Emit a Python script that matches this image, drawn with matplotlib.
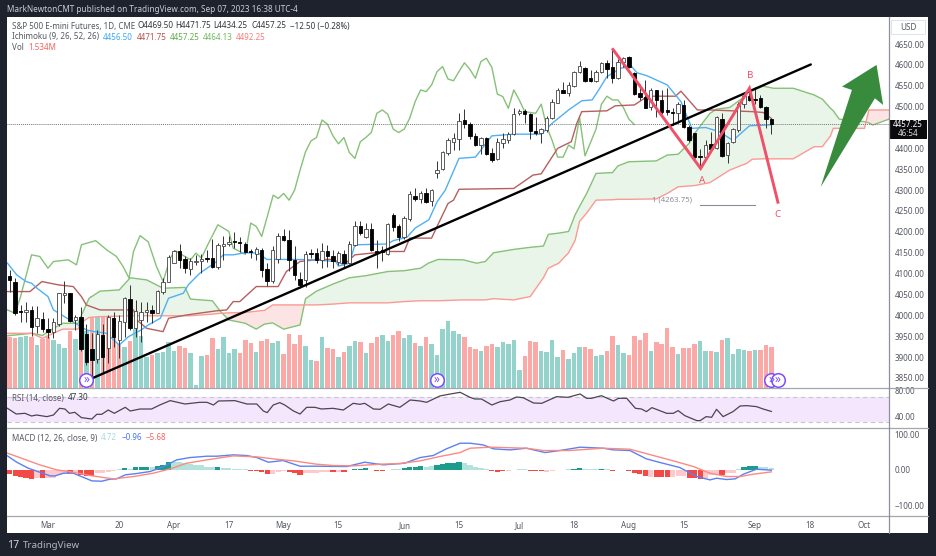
import matplotlib
matplotlib.use("Agg")
import matplotlib.pyplot as plt
import numpy as np
from matplotlib.lines import Line2D
from matplotlib.patches import Polygon, Rectangle

plt.rcParams['font.family'] = ['Noto Sans', 'DejaVu Sans']

W, H = 936, 556

# bars are numbered by trading day, 0 = Mar 1
bars = list(range(-7, 133))
opens = [4095, 4081, 4010, 4008, 4014, 3975, 3992, 3968, 3959, 3979,
         4048, 4053, 3989, 3995, 3955, 3919, 3895, 3952, 3923, 3994,
         3941, 3984, 4038, 3970, 3989, 4007, 4013, 4006, 4055, 4079,
         4126, 4153, 4135, 4110, 4127, 4131, 4138, 4137, 4117, 4167,
         4171, 4178, 4176, 4172, 4153, 4148, 4157, 4110, 4083, 4135,
         4189, 4181, 4133, 4086, 4085, 4149, 4150, 4133, 4153, 4143,
         4129, 4147, 4125, 4169, 4214, 4187, 4206, 4155, 4157, 4147,
         4240, 4214, 4187, 4230, 4287, 4278, 4292, 4273, 4340, 4350,
         4388, 4416, 4422, 4468, 4458, 4430, 4408, 4426, 4388, 4374,
         4412, 4420, 4434, 4484, 4490, 4482, 4441, 4436, 4444, 4472,
         4509, 4540, 4532, 4549, 4582, 4593, 4568, 4562, 4582, 4605,
         4594, 4568, 4608, 4618, 4580, 4533, 4524, 4498, 4540, 4517,
         4493, 4488, 4485, 4504, 4452, 4436, 4381, 4379, 4410, 4400,
         4470, 4384, 4416, 4444, 4506, 4526, 4517, 4520, 4500, 4469.5]
highs = [4108, 4089, 4025, 4033, 4022, 4022, 4009, 3993, 3993, 4053,
         4083, 4053, 4001, 4019, 3979, 3957, 3965, 3979, 4001, 4009,
         4001, 4045, 4073, 4037, 4033, 4033, 4025, 4060, 4089, 4145,
         4157, 4171, 4141, 4137, 4145, 4147, 4157, 4184, 4174, 4189,
         4189, 4199, 4187, 4175, 4158, 4163, 4161, 4125, 4165, 4197,
         4206, 4205, 4166, 4105, 4155, 4159, 4161, 4173, 4169, 4157,
         4155, 4157, 4179, 4227, 4225, 4221, 4222, 4181, 4165, 4222,
         4246, 4219, 4238, 4299, 4304, 4299, 4304, 4302, 4370, 4393,
         4424, 4438, 4484, 4494, 4462, 4438, 4428, 4427, 4402, 4424,
         4436, 4440, 4496, 4494, 4494, 4484, 4474, 4448, 4478, 4518,
         4545, 4560, 4560, 4586, 4610, 4594, 4587, 4588, 4608, 4612,
         4636, 4613, 4620, 4621, 4582, 4555, 4564, 4544, 4541, 4540,
         4544, 4496, 4510, 4516, 4456, 4438, 4398, 4420, 4440, 4478,
         4484, 4416, 4448, 4510, 4529, 4545, 4548, 4529, 4502, 4471.75]
lows = [4057, 4001, 3983, 3985, 3951, 3957, 3961, 3945, 3945, 3975,
        4029, 3985, 3965, 3915, 3880, 3853, 3885, 3865, 3885, 3925,
        3897, 3949, 3965, 3947, 3937, 3985, 3981, 4005, 4052, 4079,
        4125, 4113, 4101, 4097, 4121, 4101, 4128, 4114, 4111, 4133,
        4165, 4162, 4151, 4149, 4138, 4133, 4093, 4070, 4078, 4125,
        4179, 4106, 4085, 4066, 4069, 4137, 4125, 4113, 4117, 4113,
        4121, 4117, 4123, 4165, 4193, 4185, 4153, 4113, 4131, 4145,
        4201, 4177, 4182, 4227, 4273, 4270, 4268, 4262, 4328, 4348,
        4384, 4395, 4395, 4450, 4422, 4406, 4387, 4384, 4368, 4372,
        4400, 4412, 4432, 4480, 4460, 4422, 4432, 4412, 4440, 4470,
        4508, 4532, 4525, 4548, 4580, 4560, 4560, 4560, 4580, 4568,
        4556, 4565, 4594, 4592, 4528, 4517, 4496, 4492, 4476, 4482,
        4480, 4456, 4460, 4448, 4416, 4376, 4352, 4376, 4396, 4398,
        4380, 4366, 4414, 4440, 4496, 4514, 4506, 4496, 4448, 4434.25]
closes = [4085, 4005, 4008, 4014, 3973, 3993, 3967, 3961, 3983, 4053,
          4054, 3987, 3997, 3919, 3889, 3893, 3955, 3901, 3997, 3947,
          3987, 4041, 3969, 4011, 4009, 4014, 4006, 4058, 4081, 4139,
          4153, 4133, 4114, 4131, 4131, 4135, 4134, 4117, 4169, 4171,
          4176, 4176, 4173, 4151, 4152, 4158, 4109, 4083, 4157, 4191,
          4181, 4133, 4097, 4073, 4147, 4148, 4133, 4153, 4143, 4131,
          4149, 4126, 4171, 4214, 4197, 4206, 4157, 4149, 4151, 4219,
          4212, 4187, 4233, 4290, 4279, 4292, 4272, 4300, 4348, 4391,
          4420, 4424, 4466, 4458, 4430, 4408, 4424, 4387, 4372, 4415,
          4422, 4434, 4482, 4490, 4482, 4442, 4436, 4446, 4472, 4510,
          4540, 4533, 4552, 4582, 4597, 4562, 4562, 4584, 4605, 4589,
          4568, 4608, 4616, 4594, 4530, 4524, 4496, 4540, 4516, 4488,
          4486, 4484, 4506, 4452, 4419, 4379, 4379, 4408, 4399, 4474,
          4382, 4414, 4446, 4506, 4525, 4516, 4516, 4498, 4470, 4457.25]

volume = [1.90, 1.87, 1.90, 1.93, 1.92, 1.61, 1.83, 1.92, 1.81, 1.65,
          1.50, 2.12, 1.83, 2.52, 2.14, 3.43, 3.06, 2.99, 2.64, 2.62,
          1.65, 1.52, 1.77, 2.21, 1.96, 1.15, 1.25, 1.32, 1.33, 1.71,
          1.40, 1.58, 1.48, 1.31, 0.10, 1.20, 1.23, 1.86, 1.47, 1.90,
          1.31, 1.45, 1.31, 1.78, 1.67, 1.33, 1.77, 1.83, 1.68, 1.76,
          1.26, 2.03, 1.66, 2.00, 1.57, 1.05, 1.02, 1.90, 1.48, 1.45,
          1.17, 1.33, 1.58, 1.75, 1.73, 1.31, 1.68, 1.92, 1.97, 1.75,
          1.97, 2.13, 1.87, 1.97, 1.68, 1.57, 1.92, 1.66, 1.22, 2.21,
          2.51, 2.13, 2.01, 1.90, 1.55, 1.47, 1.40, 1.57, 1.65, 1.52,
          1.71, 1.65, 1.78, 0.66, 1.21, 1.76, 1.71, 1.37, 1.35, 1.78,
          1.16, 1.41, 1.07, 1.31, 1.55, 1.55, 1.45, 1.21, 1.23, 1.37,
          1.93, 1.60, 1.31, 1.23, 1.93, 1.78, 2.05, 1.40, 1.71, 1.65,
          2.23, 1.52, 1.28, 1.48, 1.51, 1.65, 1.76, 1.37, 1.37, 1.36,
          1.78, 1.86, 1.28, 1.45, 1.41, 1.40, 1.42, 1.41, 1.61, 1.534]
volume_up = ("0011010011" "1010101000" "0101110111" "1001110011" "1100010011"
             "0000110100" "1011010011" "0011010111" "1110001001" "1111000111"
             "1011100110" "0110000100" "0010001101" "0111101000")

tenkan_x = [-7.4, -5.7, -4, -3, -2, 0, 1, 3, 5, 7, 8.5, 10.7, 12, 13, 14.7, 17, 18.3, 20.5, 22,
            24.7, 25.6, 27.7, 30.8, 32, 33.8, 36, 38.4, 39.9, 42.3, 44.8, 48.5, 52.5, 53, 55, 56,
            59, 62, 63, 65.5, 67, 69.5, 71, 72.5, 75, 78, 81, 85, 90, 92, 95, 97.4, 99.3, 100.5,
            102, 104.5, 106.5, 107.5, 109.3, 113, 115.5, 117.5, 120, 122.5, 125, 128, 132]
tenkan_y = [4125, 4097, 4081, 4077, 4065, 4045, 4013, 3997, 3981, 3965, 3961, 3957, 3941, 3929, 3949,
            3965, 3977, 3993, 4041, 4053, 4073, 4101, 4129, 4145, 4145, 4150, 4149, 4134, 4134, 4134,
            4133, 4129, 4118, 4125, 4169, 4170, 4171, 4179, 4187, 4209, 4229, 4272, 4300, 4376, 4379,
            4430, 4434, 4434, 4460, 4492, 4514, 4516, 4540, 4572, 4592, 4596, 4581, 4574, 4552, 4512,
            4448, 4450, 4440, 4419, 4454, 4456.5]
kijun_x = [-7.4, -3.3, -1.1, 1.9, 4.6, 6.1, 7, 9.5, 15.6, 16.2, 18, 21, 22, 25.3, 30.8, 32.6, 33.8, 35,
           38, 42, 43.5, 46, 49.5, 52, 54, 56, 59, 62, 65, 66, 70, 71, 73, 74, 75, 85, 88.5, 90, 93,
           95.5, 96.5, 97.4, 102, 103.5, 107, 109.3, 110.5, 114.5, 115.5, 118.5, 121, 128.5, 130.5, 132]
kijun_y = [4057, 4057, 4081, 4073, 4069, 4045, 4025, 4013, 4013, 3989, 3969, 3961, 3993, 4001, 4011,
           4013, 4033, 4033, 4069, 4069, 4105, 4129, 4134, 4134, 4121, 4145, 4149, 4153, 4153, 4185,
           4185, 4213, 4268, 4276, 4302, 4304, 4336, 4339, 4400, 4416, 4460, 4488, 4490, 4502, 4504,
           4524, 4525, 4525, 4537, 4492, 4492, 4488, 4486, 4471.75]
chikou_x = [-7.4, -6, -5, -3, -1.5, 0, 1, 3.7, 5.2, 6.1, 8.7, 10.7, 12.5, 13.7, 14.8, 15.6, 16.8, 18.3,
            19.8, 21, 22.3, 23.2, 26, 27, 28, 29, 31, 33, 33.8, 36, 37, 38, 39, 41.1, 42, 43, 44,
            45, 46, 47, 48, 49, 50, 51, 52, 53, 54, 55, 56, 57, 58, 59, 60, 61, 62, 63, 64, 65,
            66, 67, 68, 69, 70, 71, 72, 73, 74, 75, 76, 77, 78, 79, 80, 81, 82, 83, 84, 85, 86,
            87, 88, 89, 90, 91, 92, 93, 94, 95, 96, 97, 98, 99, 100, 101, 102, 103, 104, 105, 106, 107]
chikou_y = [4013, 4005, 4045, 4145, 4141, 4113, 4129, 4133, 4121, 4169, 4179, 4157, 4141, 4117, 4089,
            4153, 4191, 4176, 4117, 4081, 4137, 4155, 4133, 4149, 4137, 4165, 4217, 4201, 4161, 4146,
            4221, 4213, 4189, 4288, 4280, 4292, 4276, 4300, 4348, 4392, 4418, 4426, 4468, 4458, 4430,
            4411, 4426, 4390, 4376, 4416, 4426, 4438, 4484, 4492, 4482, 4446, 4438, 4446, 4472, 4512,
            4540, 4536, 4552, 4584, 4596, 4566, 4562, 4584, 4605, 4589, 4568, 4608, 4616, 4594, 4530,
            4524, 4496, 4540, 4516, 4488, 4486, 4484, 4506, 4452, 4419, 4379, 4379, 4408, 4399, 4474,
            4382, 4414, 4446, 4506, 4525, 4516, 4516, 4498, 4470, 4457.25]
span_x = [-7.4, -3, -1, 1, 2.7, 5.5, 6, 7.5, 9.5, 13, 15, 18, 21, 25, 26, 30, 31.5, 33, 36, 38, 39.5, 41,
          43, 46, 47, 49, 52, 55, 58, 62, 65, 68, 69.4, 71.2, 75.8, 78.2, 79.8, 81.3, 85, 88, 90.4, 91.3,
          93.2, 95, 96.2, 97, 98.3, 100, 103, 104, 106, 111, 113, 115, 117, 118, 120.8, 122, 124.4, 126.7,
          127.5, 128.5, 130.5, 132.4, 136, 139.8, 141.3, 142.8, 143.3, 144.4, 149, 149.8, 150.5, 153.9]
span_a = [3951, 3957, 3952, 3969, 3981, 3981, 3997, 4041, 4058, 4061, 4090, 4085, 4065, 4067, 4039, 4035,
          4009, 3989, 3981, 3967, 3979, 3982, 3967, 3977, 4040, 4058, 4075, 4090, 4095, 4105, 4107, 4113,
          4125, 4134, 4133, 4125, 4129, 4150, 4158, 4163, 4166, 4194, 4197, 4201, 4241, 4261, 4292, 4340,
          4342, 4358, 4368, 4370, 4384, 4386, 4412, 4436, 4484, 4494, 4498, 4520, 4532, 4538, 4549, 4544,
          4544, 4528, 4518, 4496, 4490, 4470, 4464, 4461, 4456, 4472]
span_b = [3957, 3957, 3945, 3957, 3967, 3967, 3982, 3995, 3997, 3998, 3999, 3999, 3999, 3999, 3999, 4003,
          4005, 4006, 4007, 4010, 4012, 4025, 4025, 4025, 4025, 4025, 4027, 4030, 4030, 4030, 4033, 4035,
          4035, 4035, 4037, 4037, 4037, 4040, 4037, 4045, 4090, 4113, 4125, 4150, 4180, 4225, 4245, 4276,
          4277, 4278, 4278, 4279, 4292, 4308, 4310, 4311, 4318, 4328, 4348, 4360, 4364, 4374, 4375, 4375,
          4375, 4404, 4404, 4430, 4448, 4448, 4448, 4492, 4492, 4492]

rsi_x = [-7.4, -5.8, -4.2, -3, -2.1, -.2, 1, 2.1, 3.1, 3.9, 4.9, 6.1, 8, 8.9, 9.8, 11, 12.1, 14.1, 15, 16.8,
         18.9, 20.4, 22.3, 25, 27.7, 29, 30.2, 31.1, 34.1, 36.3, 38.1, 39.3, 40, 41.1, 42.3, 43.2, 44.8, 46,
         47.2, 48.7, 49.9, 52, 53.9, 55.7, 56.9, 57.8, 59.4, 60.6, 62.1, 64.2, 66.1, 67.9, 69.1, 71.5, 73.1,
         75.2, 77, 77.9, 79.1, 81, 82.5, 84.3, 85.5, 86.7, 88.6, 90.1, 92.8, 94.9, 97.1, 98.3, 99.2, 101,
         103.2, 104.1, 105.6, 107.2, 108.3, 109.2, 110.2, 112.9, 114.1, 115, 116.2, 118.4, 119, 120.1, 121.1,
         122, 123.2, 125, 126.3, 127.5, 129.3, 130.5, 132]
rsi_y = [52.3, 43.2, 44.3, 40, 41.6, 39, 41.6, 52.3, 51.2, 44.3, 45.9, 37.4, 35.2, 42.7, 42.7, 49.6, 44.3, 53.9,
         48, 51.2, 51.2, 57.6, 64.6, 59.2, 61.9, 61.9, 57.6, 64, 64.6, 59.2, 59.2, 48, 45.4, 57.6, 61.4, 57.6, 48,
         43.2, 53.9, 53.9, 51.2, 52.3, 49.6, 60.3, 58.7, 60.3, 51.2, 50.7, 59.2, 53.9, 65.6, 64, 61.9, 72, 74.7,
         77.9, 69.9, 67.2, 67.2, 57.6, 62.9, 65.6, 70.4, 69.3, 60.8, 60.3, 70.9, 69.9, 75.2, 68.3, 68.3, 72.5, 64,
         68.3, 68.3, 52.3, 51.2, 47, 53.4, 44.3, 44.3, 48.6, 40.6, 32.6, 32.6, 39, 37.9, 50.7, 39, 47, 56, 56.6,
         55, 51.2, 47.3]

macd_hist = [-11, -16, -19, -22, -26, -23.5, -24, -23.5, -22, -14,
             -9, -10, -7, -14, -16, -17, -9, -8, -5, -3,
             3, 6, 3, 7, 7, 7, 7, 11, 14, 22,
             22, 21, 18, 16, 14, 14, 9, 8, 8, 6,
             5, 3, 3, 2, -2, -3, -7, -11, -11, -7,
             -4, -7, -8, -14, -10, -9, -8, -6, -5, -7,
             -5, -7, -1, 3, 3, 4, 1, -3, -3, -1,
             2, 3, 5, 8, 9, 11, 8, 11, 13, 16,
             19, 19, 21, 18, 14, 9, 6, 3, -3, -5,
             -4, -3, -1, 2, 2, -3, -3, -3, -7, -3,
             -1, 1, 2, 3, 6, 2, 2, 2, 2, 2,
             -3, -1, -1, -2, -8, -11, -16, -19, -19, -20,
             -20, -19, -17, -17, -22, -24, -26, -22, -14, -12,
             -14, -10, -9, 2, 8, 10, 11, 9, 7, 4.72]
macd_dark = ("1111101000" "0101110000" "0101110111" "0000000010" "0000111100"
             "0111000001" "0101110110" "0011110011" "1110000011" "1000011100"
             "0001100010" "1001111011" "1000111000" "1000111000")
macd_x = [-7.4, -5.7, -3.6, -1.5, .4, 1.3, 2.8, 4.6, 6.4, 8, 9.8, 11.3, 12.5, 14.1, 16.2, 18.6, 20.4, 22.3, 23.5,
          25.9, 29, 30.8, 33.8, 36.3, 38.1, 40.2, 42.9, 46, 49, 54.5, 57.8, 61.2, 65.1, 67.9, 70.3, 72.7, 75.2,
          77, 79.4, 81.3, 84.3, 87.3, 90.7, 93.4, 97.1, 101.3, 103.2, 106.2, 109.2, 111.7, 115.3, 118.4, 120.8,
          122, 123.8, 125.4, 126.9, 129.3, 132]
macd_y = [39.4, 21.6, 4.7, -6.6, -17, -17, -9.4, -9.4, -20.7, -31, -32, -26.3, -25.4, -14, -10.3, -4.7, 4.7, 18.8,
          28.2, 34.7, 38.5, 38.5, 42.3, 40.4, 34.7, 21.6, 26.3, 10.3, 10.3, 9.4, 21.6, 14.1, 18.8, 34.7, 40.4, 59.2,
          75.1, 75.1, 70.4, 59.2, 56.3, 61, 48.8, 54.5, 63.9, 61, 56.3, 54.5, 31, 20.7, 6.6, -18.8, -28.2, -23.5,
          -27.2, -25.4, -12.2, 1.9, -0.96]
signal_x = [-7.4, -4.5, -1.5, 1.6, 4.6, 7.7, 11.9, 15.6, 19.2, 22.3, 25.3, 29, 33.8, 38.1, 41.7, 44.8, 49, 52.1,
            55.7, 60.6, 64.2, 67.9, 71.5, 75.2, 77, 80.6, 87.3, 90.4, 95.2, 101.3, 106.2, 110.5, 114.1, 117.8,
            120.8, 123.8, 126.3, 128.7, 132]
signal_y = [47, 31, 14.1, 0, -6.6, -16, -25.4, -18.8, -9.4, 2.8, 18.8, 28.2, 39.4, 36.6, 30, 25.4, 16, 12.2, 11.3,
            16, 17.8, 25.4, 37.6, 48.8, 61, 63.9, 61, 54.5, 54.5, 61, 58.2, 40.4, 25.4, 9.4, -9.4, -18.8, -18.8,
            -12.2, -5.68]

# 4450 is hidden behind the last-price box in the reference
price_ticks = [p for p in range(3850, 4651, 50) if p != 4450]
time_ticks = [0, 13, 23, 33, 43, 53, 65, 75, 86, 96, 106, 116, 129, 139, 149]
time_labels = ["Mar", "20", "Apr", "17", "May", "15", "Jun", "15", "Jul", "18", "Aug", "15", "Sep", "18", "Oct"]

trend_x = [8.2, 139.2]
trend_y = [3850, 4601]
wave_x = [103.1, 119.1, 128, 133.2]
wave_y = [4637, 4352, 4544, 4271]
arrow_x = [151.2, 152.4, 150.9, 141, 146.7, 144.9]
arrow_y = [4600, 4504, 4520, 4307.5, 4540, 4548]
alert_x = [7, 71, 132, 133.2]

GRAY = "#555862"
XLIM = (-7.48, 153.47)


def fx(px):
    return px / W


def fy(px):
    return 1 - px / H


def pane(top, bottom):
    ax = fig.add_axes([fx(7), fy(bottom), fx(882), (bottom - top) / H])
    ax.patch.set_visible(False)
    ax.set_xlim(*XLIM)
    for s in ax.spines.values():
        s.set_visible(False)
    ax.set_xticks([])
    ax.yaxis.tick_right()
    ax.tick_params(axis="y", length=0, pad=4, labelsize=5.8, labelcolor=GRAY)
    return ax


def label(px, py, s, color=GRAY, **kw):
    kw.setdefault("fontsize", 5.8)
    fig.text(fx(px), fy(py), s, color=color, va="center", **kw)


fig = plt.figure(figsize=(W / 100, H / 100), dpi=100, facecolor="#1e222d")
fig.add_artist(Rectangle((fx(7), fy(533)), fx(921), 516 / H, transform=fig.transFigure,
                         facecolor="white", edgecolor="none", zorder=-5))

# volume sits under the price pane
ax_vol = pane(17, 388)
ax_vol.set_ylim(0, 13.88)
ax_vol.set_yticks([])
vol_colors = ["#93d3cc" if u == "1" else "#faa9a6" for u in volume_up]
ax_vol.bar(bars, volume, width=0.82, color=vol_colors, linewidth=0)

ax = pane(17, 388)
ax.set_ylim(3826, 4714.7)
ax.set_yticks(price_ticks)
ax.set_yticklabels(["%.2f" % p for p in price_ticks])

ax.fill_between(span_x, span_a, span_b, where=np.array(span_a) >= np.array(span_b),
                interpolate=True, color="#e9f5e9", linewidth=0, zorder=1)
ax.fill_between(span_x, span_a, span_b, where=np.array(span_a) < np.array(span_b),
                interpolate=True, color="#fde4e4", linewidth=0, zorder=1)
ax.plot(span_x, span_a, color="#86c178", lw=1, zorder=2)
ax.plot(span_x, span_b, color="#fb9a94", lw=1, zorder=2)
ax.plot(chikou_x, chikou_y, color="#86c178", lw=1, zorder=2)
ax.plot(kijun_x, kijun_y, color="#b4605f", lw=1, zorder=2)
ax.plot(tenkan_x, tenkan_y, color="#4fb0f7", lw=1, zorder=2)

ax.axhline(closes[-1], color="#777777", lw=0.7, ls=(0, (1, 1)), zorder=2)

ax.vlines(bars, lows, highs, color="#333333", lw=0.7, zorder=3)
for b, o, c in zip(bars, opens, closes):
    up = c >= o
    ax.bar(b, max(abs(c - o), 2.4), bottom=min(o, c), width=0.62,
           color="white" if up else "black", edgecolor="#444444" if up else "black",
           linewidth=0.6, zorder=4)

ax.plot(trend_x, trend_y, color="black", lw=1.7, solid_capstyle="round", zorder=5)
ax.plot(wave_x, wave_y, color="#f0506a", lw=2.1, solid_joinstyle="miter", zorder=6)
ax.add_patch(Polygon(list(zip(arrow_x, arrow_y)), closed=True, facecolor="#388a3c", edgecolor="none", zorder=6))
ax.text(119.3, 4322, "A", color="#f0506a", fontsize=7, ha="center", va="center")
ax.text(128.2, 4574, "B", color="#f0506a", fontsize=7, ha="center", va="center")
ax.text(133.1, 4242, "C", color="#f0506a", fontsize=7, ha="center", va="center")
ax.plot([119, 129], [4264, 4264], color="#8a8d96", lw=0.8, zorder=5)
ax.text(113.8, 4276, "1 (4263.75)", color="#8a8d96", fontsize=5.6, ha="center", va="center")

ax.scatter(alert_x, [3845] * 4, s=95, facecolor="white", edgecolor="#7c4dff", linewidth=1.1, zorder=7, clip_on=False)
for a in alert_x:
    ax.text(a, 3846, "\u00bb", color="#7c4dff", fontsize=8.5, ha="center", va="center", zorder=8)

ax_rsi = pane(388, 428)
ax_rsi.set_ylim(20.8, 84.8)
ax_rsi.set_yticks([40, 80])
ax_rsi.set_yticklabels(["40.00", "80.00"])
ax_rsi.axhspan(30, 70, color="#f4e7fd", linewidth=0)
for lvl in (30, 70):
    ax_rsi.axhline(lvl, color="#c9c4d2", lw=0.8, ls=(0, (4, 3)))
ax_rsi.plot(rsi_x, rsi_y, color="#4a4550", lw=0.9)

ax_macd = pane(428, 516)
ax_macd.set_ylim(-130, 118)
ax_macd.set_yticks([-100, 0, 100])
ax_macd.set_yticklabels(["\u2212100.00", "0.00", "100.00"])
hist_colors = []
for v, d in zip(macd_hist, macd_dark):
    if v >= 0:
        hist_colors.append("#1d9c8e" if d == "1" else "#b5e2dc")
    else:
        hist_colors.append("#f44a45" if d == "1" else "#fdc9cd")
ax_macd.bar(bars, macd_hist, width=0.95, color=hist_colors, linewidth=0)
ax_macd.plot(macd_x, macd_y, color="#5b82f0", lw=1)
ax_macd.plot(signal_x, signal_y, color="#fb8a82", lw=1)
ax_macd.set_xticks(time_ticks)
ax_macd.set_xticklabels(time_labels)
ax_macd.tick_params(axis="x", length=0, pad=3.5, labelsize=5.8, labelcolor=GRAY)

# pane separators and price scale edge
for py in (388, 428, 516):
    fig.add_artist(Line2D([fx(7), fx(928)], [fy(py), fy(py)], color="#a3a6af", lw=0.9))
fig.add_artist(Line2D([fx(889), fx(889)], [fy(17), fy(533)], color="#8e9099", lw=0.9))

fig.add_artist(Rectangle((fx(891), fy(34)), fx(34), 14 / H, transform=fig.transFigure,
                         facecolor="white", edgecolor="#e0e3eb", lw=0.7))
label(908, 27.5, "USD", ha="center")

fig.add_artist(Rectangle((fx(890), fy(138.5)), fx(37), 19 / H, transform=fig.transFigure,
                         facecolor="#0b0b0e", edgecolor="none"))
label(908, 124.5, "4457.25", color="white", ha="center", fontweight="bold")
label(908, 133.5, "46:54", color="#d8d8d8", ha="center")

# header and legend rows
label(7, 9, "MarkNewtonCMT published on TradingView.com, Sep 07, 2023 16:38 UTC-4", color="#c9ccd4", fontsize=5.9)
label(12, 26, "S&P 500 E-mini Futures, 1D, CME")
label(137, 26, "O4469.50", color="#333640")
label(175, 26, "H4471.75", color="#333640")
label(213, 26, "L4434.25", color="#333640")
label(252, 26, "C4457.25", color="#333640")
label(290, 26, "\u221212.50 (\u22120.28%)", color="#333640")
label(12, 37, "Ichimoku (9, 26, 52, 26)")
label(103, 37, "4456.50", color="#3fa7f5")
label(137, 37, "4471.75", color="#b4504f")
label(170, 37, "4457.25", color="#5fae4b")
label(203, 37, "4464.13", color="#6fbb62")
label(236, 37, "4492.25", color="#fb7d78")
label(12, 48, "Vol")
label(28, 48, "1.534M", color="#f7635f")
label(12, 398, "RSI (14, close)")
label(68, 398, "47.30", color="#333640")
label(12, 438, "MACD (12, 26, close, 9)")
label(101, 438, "4.72", color="#a9dcd6")
label(122, 438, "\u22120.96", color="#4a74ee")
label(146, 438, "\u22125.68", color="#f7635f")

label(7, 545, "17", color="#d1d4dc", fontsize=7.5, fontweight="bold")
label(22.5, 545, "TradingView", color="#b2b5be", fontsize=7)

fig.savefig("out.png", dpi=100, facecolor=fig.get_facecolor())
